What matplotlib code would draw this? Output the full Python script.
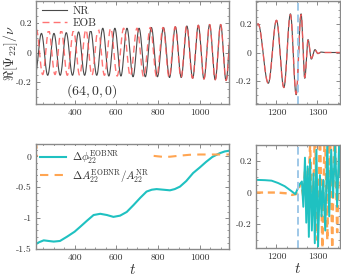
import numpy as np
import matplotlib
matplotlib.use('Agg')
import matplotlib.pyplot as plt
from matplotlib.ticker import MultipleLocator, FixedLocator, FixedFormatter

plt.rcParams['font.family'] = ['cmr10', 'DejaVu Serif']
plt.rcParams['mathtext.fontset'] = 'cm'
plt.rcParams['axes.unicode_minus'] = False

# ---------------- data ----------------
# top-left: extrema (time, value) of the inspiral waveform
nr_ext_t = [181, 211, 241, 271, 301, 331, 360, 390, 419, 448, 477, 506, 535, 564,
            593, 622, 651, 680, 709, 739, 768, 797, 826, 855, 883, 911, 938, 966,
            993, 1020, 1047, 1074, 1100, 1126, 1152]
nr_ext_v = [0.13, -0.15, 0.13, -0.155, 0.13, -0.155, 0.135, -0.155, 0.14, -0.155,
            0.15, -0.155, 0.165, -0.16, 0.165, -0.16, 0.165, -0.165, 0.165, -0.165,
            0.17, -0.165, 0.17, -0.17, 0.175, -0.17, 0.18, -0.175, 0.185, -0.18,
            0.19, -0.185, 0.19, -0.19, 0.2]
eob_ext_t = [188, 217, 247, 276, 306, 336, 365, 395, 424, 454, 483, 513, 543, 573,
             604, 635, 667, 699, 731, 763, 793, 824, 853, 882, 910, 937, 965, 993,
             1020, 1047, 1074, 1100, 1126, 1152]
eob_ext_v = [-0.15, 0.155, -0.15, 0.15, -0.15, 0.15, -0.155, 0.15, -0.155, 0.155,
             -0.155, 0.16, -0.155, 0.165, -0.16, 0.165, -0.16, 0.165, -0.165, 0.17,
             -0.165, 0.17, -0.17, 0.175, -0.17, 0.18, -0.175, 0.185, -0.18, 0.19,
             -0.185, 0.19, -0.19, 0.2]

# top-right: merger / ringdown extrema
mr_ext_t = [1126, 1155, 1180, 1200, 1218, 1234, 1248, 1260, 1269, 1277, 1285, 1294,
            1301, 1309, 1318, 1360]
mr_nr_v = [-0.19, 0.2, -0.215, 0.225, -0.245, 0.27, -0.295, 0.27, -0.18, 0.09,
           -0.046, 0.02, -0.008, 0.003, 0.0, 0.0]
mr_eob_v = [-0.19, 0.2, -0.215, 0.225, -0.245, 0.265, -0.29, 0.265, -0.175, 0.085,
            -0.04, 0.015, -0.006, 0.002, 0.0, 0.0]
t_merger = 1252

# bottom-left: phase and amplitude differences
dphi_t = [215, 230, 252, 275, 300, 330, 364, 400, 427, 460, 491, 523, 555, 586, 618,
          650, 682, 715, 745, 770, 793, 825, 857, 880, 905, 935, 968, 1000, 1030,
          1060, 1095, 1120, 1140]
dphi_v = [-1.42, -1.39, -1.36, -1.37, -1.38, -1.37, -1.30, -1.22, -1.14, -1.04, -0.95,
          -0.93, -0.95, -0.98, -0.96, -0.90, -0.79, -0.67, -0.57, -0.54, -0.53, -0.54,
          -0.55, -0.53, -0.49, -0.40, -0.27, -0.18, -0.09, -0.01, 0.05, 0.08, 0.09]
damp_t = [215, 219, 224, 232, 260, 320, 400, 500, 600, 700, 730, 760, 800, 830, 860,
          900, 950, 1000, 1050, 1100, 1140]
damp_v = [0.26, 0.08, 0.02, 0.0, -0.005, 0.0, 0.005, 0.01, 0.015, 0.02, 0.02, 0.015,
          0.0, -0.01, -0.005, 0.01, 0.025, 0.03, 0.03, 0.03, 0.03]

# bottom-right: differences through merger
mdphi_t = [1150, 1172, 1188, 1204, 1220, 1236, 1246, 1256, 1262, 1265.5, 1269.5,
           1272.7, 1276, 1279, 1282, 1286.3, 1290.4, 1293.5, 1297.5, 1301.5, 1306,
           1310, 1314, 1319, 1324, 1328.7, 1333.5, 1338, 1343, 1348, 1353, 1356]
mdphi_v = [0.08, 0.078, 0.075, 0.06, 0.04, 0.01, -0.01, 0.05, 0.07, -0.09, 0.22,
           -0.19, 0.165, -0.28, 0.21, -0.24, 0.12, -0.32, 0.27, -0.34, 0.11, -0.15,
           0.08, -0.24, 0.31, -0.15, 0.27, -0.03, 0.31, -0.09, 0.31, 0.1]
mdamp_t = [1150, 1200, 1225, 1238, 1248, 1255, 1260, 1265, 1270, 1276, 1282, 1288,
           1294, 1300, 1306, 1312, 1318, 1324, 1330, 1336, 1342, 1348, 1356]
mdamp_v = [0.0, 0.0, -0.005, -0.015, -0.01, 0.03, 0.06, -0.02, 0.15, -0.1, 0.3,
           -0.15, 0.4, -0.3, 0.4, -0.35, 0.45, -0.3, 0.5, -0.35, 0.5, -0.25, 0.5]

ytick_top = [-0.2, 0, 0.2]
ytick_top_lbl = ['-0.2', '0', '0.2']
ytick_bl = [-1.5, -1, -0.5, 0]
ytick_bl_lbl = ['-1.5', '-1', '-0.5', '0']
ytick_br = [-0.2, 0, 0.2]
ytick_br_lbl = ['-0.2', '0', '0.2']
xtick_left = [400, 600, 800, 1000]
xtick_right = [1200, 1300]


def half_cos(t_ext, v_ext, n=30):
    """Draw smooth oscillation through the listed extrema."""
    ts, vs = [], []
    for i in range(len(t_ext) - 1):
        s = np.linspace(0, 1, n, endpoint=False)
        ts.append(t_ext[i] + (t_ext[i + 1] - t_ext[i]) * s)
        vs.append(v_ext[i] + (v_ext[i + 1] - v_ext[i]) * (1 - np.cos(np.pi * s)) / 2)
    ts.append([t_ext[-1]])
    vs.append([v_ext[-1]])
    return np.concatenate(ts), np.concatenate(vs)


W, H = 341, 276
fig = plt.figure(figsize=(W / 100, H / 100), dpi=100)


def px_axes(x0, x1, y0, y1):
    return fig.add_axes([x0 / W, (H - y1) / H, (x1 - x0) / W, (y1 - y0) / H])


ax_tl = px_axes(36, 229, 1, 104)
ax_tr = px_axes(256, 340, 1, 104)
ax_bl = px_axes(36, 229, 144, 249)
ax_br = px_axes(256, 340, 145, 248)

spine_c = '#8a8a8a'
text_c = '#333333'
for ax in (ax_tl, ax_tr, ax_bl, ax_br):
    for s in ax.spines.values():
        s.set_color(spine_c)
        s.set_linewidth(1.0)
    ax.tick_params(which='both', direction='in', top=True, right=True,
                   color=spine_c, labelcolor=text_c, labelsize=7, pad=3)
    ax.tick_params(which='major', length=3, width=0.7)
    ax.tick_params(which='minor', length=1.6, width=0.6)

nr_c = '#4a4a4a'
eob_c = '#ff5a5a'
cyan = '#1fc1c1'
orange = '#ffa552'
vline_c = '#9fc8e8'

# ---- top-left
t, v = half_cos(nr_ext_t, nr_ext_v)
ax_tl.plot(t, v, color=nr_c, lw=0.8, label='NR')
t, v = half_cos(eob_ext_t, eob_ext_v)
ax_tl.plot(t, v, color=eob_c, lw=1.0, ls=(0, (5, 3)), alpha=0.85, label='EOB')
ax_tl.set_xlim(215, 1140)
ax_tl.set_ylim(-0.35, 0.35)
ax_tl.xaxis.set_major_locator(FixedLocator(xtick_left))
ax_tl.xaxis.set_minor_locator(MultipleLocator(50))
ax_tl.yaxis.set_major_locator(FixedLocator(ytick_top))
ax_tl.yaxis.set_major_formatter(FixedFormatter(ytick_top_lbl))
ax_tl.yaxis.set_minor_locator(MultipleLocator(0.05))
ax_tl.set_ylabel(r'$\Re[\Psi_{22}]/\nu$', fontsize=10, color=text_c,
                 va='center', ha='center')
ax_tl.yaxis.set_label_coords(-0.132, 0.5)
leg = ax_tl.legend(loc='upper left', fontsize=8, handlelength=2.3, frameon=True,
                   borderaxespad=0.3, labelspacing=0.2, handletextpad=0.5,
                   borderpad=0.2)
leg.get_frame().set_edgecolor('none')
leg.get_frame().set_facecolor('white')
leg.get_frame().set_alpha(1.0)
for tx in leg.get_texts():
    tx.set_color(text_c)
ax_tl.text(0.29, 0.13, r'$(64,0,0)$', transform=ax_tl.transAxes, fontsize=10,
           ha='center', va='center', color=text_c)

# ---- top-right
t, v = half_cos(mr_ext_t, mr_nr_v)
ax_tr.plot(t, v, color=nr_c, lw=0.8)
t, v = half_cos(mr_ext_t, mr_eob_v)
ax_tr.plot(t, v, color=eob_c, lw=1.0, ls=(0, (5, 3)), alpha=0.85)
ax_tr.axvline(t_merger, color=vline_c, lw=1.4, ls=(0, (4, 2)))
ax_tr.set_xlim(1150, 1355)
ax_tr.set_ylim(-0.36, 0.36)
ax_tr.xaxis.set_major_locator(FixedLocator(xtick_right))
ax_tr.xaxis.set_minor_locator(MultipleLocator(25))
ax_tr.yaxis.set_major_locator(FixedLocator(ytick_top))
ax_tr.yaxis.set_major_formatter(FixedFormatter(ytick_top_lbl))
ax_tr.yaxis.set_minor_locator(MultipleLocator(0.05))

# ---- bottom-left
ax_bl.plot(dphi_t, dphi_v, color=cyan, lw=1.5,
           label=r'$\Delta\phi_{22}^{\rm EOBNR}$')
ax_bl.plot(damp_t, damp_v, color=orange, lw=1.5, ls=(0, (4, 3)),
           label=r'$\Delta A_{22}^{\rm EOBNR}/A_{22}^{\rm NR}$')
ax_bl.set_xlim(215, 1140)
ax_bl.set_ylim(-1.5, 0.2)
ax_bl.xaxis.set_major_locator(FixedLocator(xtick_left))
ax_bl.xaxis.set_minor_locator(MultipleLocator(50))
ax_bl.yaxis.set_major_locator(FixedLocator(ytick_bl))
ax_bl.yaxis.set_major_formatter(FixedFormatter(ytick_bl_lbl))
ax_bl.yaxis.set_minor_locator(MultipleLocator(0.1))
ax_bl.set_xlabel(r'$t$', fontsize=11, color=text_c, labelpad=1)
leg2 = ax_bl.legend(loc='upper left', fontsize=8, handlelength=2.3, frameon=True,
                    borderaxespad=0.2, labelspacing=0.1, handletextpad=0.5,
                    borderpad=0.2)
leg2.get_frame().set_edgecolor('none')
leg2.get_frame().set_facecolor('white')
leg2.get_frame().set_alpha(1.0)
for tx in leg2.get_texts():
    tx.set_color(text_c)

# ---- bottom-right
ax_br.plot(mdamp_t, mdamp_v, color=orange, lw=1.7, ls=(0, (3, 2)))
ax_br.plot(mdphi_t, mdphi_v, color=cyan, lw=1.4)
ax_br.axvline(t_merger, color=vline_c, lw=1.4, ls=(0, (4, 2)))
ax_br.set_xlim(1150, 1355)
ax_br.set_ylim(-0.35, 0.3)
ax_br.xaxis.set_major_locator(FixedLocator(xtick_right))
ax_br.xaxis.set_minor_locator(MultipleLocator(25))
ax_br.yaxis.set_major_locator(FixedLocator(ytick_br))
ax_br.yaxis.set_major_formatter(FixedFormatter(ytick_br_lbl))
ax_br.yaxis.set_minor_locator(MultipleLocator(0.05))
ax_br.set_xlabel(r'$t$', fontsize=11, color=text_c, labelpad=1)

fig.savefig('out.png', dpi=100)
